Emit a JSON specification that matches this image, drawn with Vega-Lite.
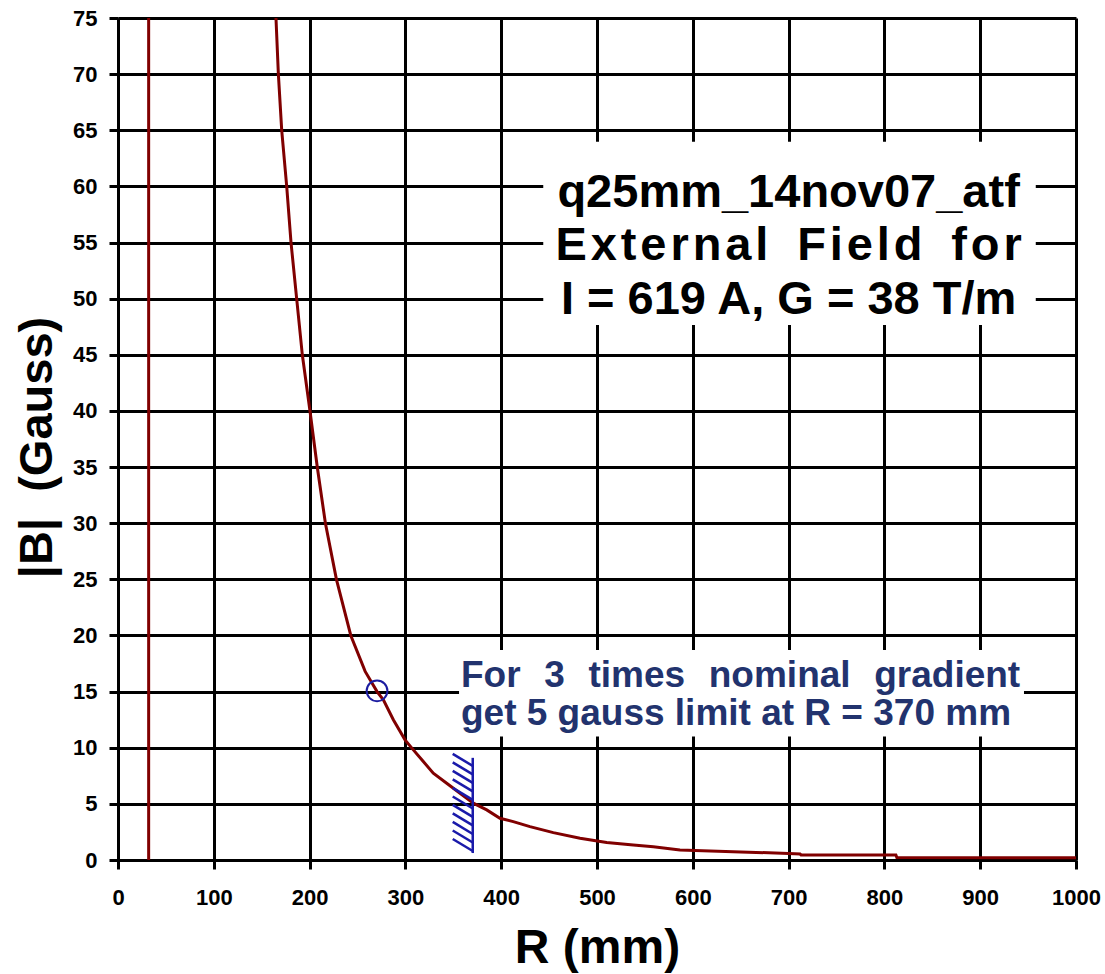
{
  "$schema": "https://vega.github.io/schema/vega-lite/v6.json",
  "width": 958,
  "height": 842,
  "autosize": {"type": "none"},
  "padding": {"left": 118, "top": 18, "right": 29, "bottom": 114},
  "background": "white",
  "config": {
    "view": {"stroke": null},
    "font": "Liberation Sans",
    "axis": {
      "grid": true,
      "gridColor": "black",
      "gridWidth": 3,
      "gridOpacity": 1,
      "domainColor": "black",
      "domainWidth": 3,
      "tickColor": "black",
      "tickWidth": 3,
      "tickSize": 9,
      "labelFont": "Liberation Sans",
      "labelFontWeight": "bold",
      "labelFontSize": 22,
      "labelColor": "black",
      "labelFlush": false,
      "labelOverlap": false,
      "labelBound": false,
      "titleFont": "Liberation Sans",
      "titleFontWeight": "bold",
      "titleColor": "black"
    }
  },
  "datasets": {
    "curve": [
      {"r": 164.9, "b": 75}, {"r": 167.4, "b": 70}, {"r": 170.9, "b": 65}, {"r": 176.1, "b": 60},
      {"r": 180.6, "b": 55}, {"r": 186.5, "b": 50}, {"r": 192.4, "b": 45}, {"r": 200.4, "b": 40},
      {"r": 208, "b": 35}, {"r": 216.5, "b": 30}, {"r": 228, "b": 25}, {"r": 243, "b": 20},
      {"r": 258, "b": 16.8}, {"r": 270.4, "b": 15.0}, {"r": 277, "b": 14.27}, {"r": 287.4, "b": 12.49},
      {"r": 299.6, "b": 10.7}, {"r": 308.3, "b": 9.81}, {"r": 318.7, "b": 8.77}, {"r": 329.1, "b": 7.73},
      {"r": 343.1, "b": 6.84}, {"r": 357, "b": 5.95}, {"r": 370.9, "b": 5.06}, {"r": 384.9, "b": 4.46},
      {"r": 398.7, "b": 3.72}, {"r": 412.6, "b": 3.42}, {"r": 430, "b": 2.97}, {"r": 454.4, "b": 2.44},
      {"r": 482.3, "b": 1.93}, {"r": 510.1, "b": 1.55}, {"r": 537.9, "b": 1.34}, {"r": 558.8, "b": 1.19},
      {"r": 586.6, "b": 0.89}, {"r": 650, "b": 0.72}, {"r": 700, "b": 0.58}, {"r": 712, "b": 0.53},
      {"r": 713, "b": 0.45}, {"r": 812, "b": 0.45}, {"r": 813, "b": 0.22}, {"r": 1000, "b": 0.2}
    ],
    "vline": [{"r": 32}],
    "boxes": [
      {"xa": 443.9, "xb": 958, "ya": 47.65, "yb": 63.97},
      {"xa": 356, "xb": 945.7, "ya": 11.0, "yb": 18.7}
    ],
    "circle": [{"r": 270.4, "b": 15.07}],
    "hatch": [
      {"xa": 349.4, "ya": 9.45, "xb": 370.3, "yb": 8.38},
      {"xa": 349.4, "ya": 8.70, "xb": 370.3, "yb": 7.63},
      {"xa": 349.4, "ya": 7.94, "xb": 370.3, "yb": 6.87},
      {"xa": 349.4, "ya": 7.18, "xb": 370.3, "yb": 6.11},
      {"xa": 349.4, "ya": 6.42, "xb": 370.3, "yb": 5.35},
      {"xa": 349.4, "ya": 5.66, "xb": 370.3, "yb": 4.59},
      {"xa": 349.4, "ya": 4.91, "xb": 370.3, "yb": 3.84},
      {"xa": 349.4, "ya": 4.15, "xb": 370.3, "yb": 3.08},
      {"xa": 349.4, "ya": 3.39, "xb": 370.3, "yb": 2.32},
      {"xa": 349.4, "ya": 2.63, "xb": 370.3, "yb": 1.56},
      {"xa": 349.4, "ya": 1.87, "xb": 370.3, "yb": 0.80},
      {"xa": 370.3, "ya": 9.1, "xb": 370.3, "yb": 0.62}
    ],
    "titleText": [
      {"x": 700, "y": 58.15, "t": "q25mm_14nov07_atf"},
      {"x": 700, "y": 53.42, "t": "E\u200ax\u200at\u200ae\u200ar\u200an\u200aa\u200al\u200a\u200a\u00a0\u200a\u200aF\u200ai\u200ae\u200al\u200ad\u200a\u200a\u00a0\u200a\u200af\u200ao\u200ar"},
      {"x": 700, "y": 48.6, "t": "I = 619 A, G = 38 T/m"}
    ],
    "noteText": [
      {"x": 358, "y": 15.44, "t": "For\u00a0\u00a0\u200a3\u00a0\u00a0\u200atimes\u00a0\u00a0\u200anominal\u00a0\u00a0\u200agradient"},
      {"x": 358, "y": 12.02, "t": "get 5 gauss limit at R = 370 mm"}
    ]
  },
  "layer": [
    {
      "data": {"name": "boxes"},
      "mark": {"type": "rect", "color": "white"},
      "encoding": {
        "x": {"field": "xa", "type": "quantitative",
              "scale": {"domain": [0, 1000], "nice": false, "zero": false},
              "axis": {"values": [0, 100, 200, 300, 400, 500, 600, 700, 800, 900, 1000], "format": "d",
                       "title": "R (mm)", "titleFontSize": 48, "titlePadding": 16, "labelPadding": 18}},
        "x2": {"field": "xb"},
        "y": {"field": "ya", "type": "quantitative",
              "scale": {"domain": [0, 75], "nice": false, "zero": false},
              "axis": {"values": [0, 5, 10, 15, 20, 25, 30, 35, 40, 45, 50, 55, 60, 65, 70, 75],
                       "title": "|B|\u00a0\u00a0(Gauss)", "titleFontSize": 47, "titlePadding": 11, "titleY": 429, "labelPadding": 12}},
        "y2": {"field": "yb"}
      }
    },
    {
      "data": {"name": "vline"},
      "mark": {"type": "rule", "color": "#800000", "strokeWidth": 3},
      "encoding": {
        "x": {"field": "r", "type": "quantitative"}
      }
    },
    {
      "data": {"name": "curve"},
      "mark": {"type": "line", "color": "#800000", "strokeWidth": 3},
      "encoding": {
        "x": {"field": "r", "type": "quantitative"},
        "y": {"field": "b", "type": "quantitative"}
      }
    },
    {
      "data": {"name": "circle"},
      "mark": {"type": "point", "shape": "circle", "filled": false, "color": "#1c1ca0", "strokeWidth": 2, "size": 430, "opacity": 1},
      "encoding": {
        "x": {"field": "r", "type": "quantitative"},
        "y": {"field": "b", "type": "quantitative"}
      }
    },
    {
      "data": {"name": "hatch"},
      "mark": {"type": "rule", "color": "#1a1aaa", "strokeWidth": 2.5},
      "encoding": {
        "x": {"field": "xa", "type": "quantitative"},
        "y": {"field": "ya", "type": "quantitative"},
        "x2": {"field": "xb"},
        "y2": {"field": "yb"}
      }
    },
    {
      "data": {"name": "titleText"},
      "mark": {"type": "text", "font": "Liberation Sans", "fontWeight": "bold", "fontSize": 47, "color": "black", "align": "center", "baseline": "alphabetic"},
      "encoding": {
        "x": {"field": "x", "type": "quantitative"},
        "y": {"field": "y", "type": "quantitative"},
        "text": {"field": "t"}
      }
    },
    {
      "data": {"name": "noteText"},
      "mark": {"type": "text", "font": "Liberation Sans", "fontWeight": "bold", "fontSize": 37, "color": "#22336e", "align": "left", "baseline": "alphabetic"},
      "encoding": {
        "x": {"field": "x", "type": "quantitative"},
        "y": {"field": "y", "type": "quantitative"},
        "text": {"field": "t"}
      }
    }
  ]
}
